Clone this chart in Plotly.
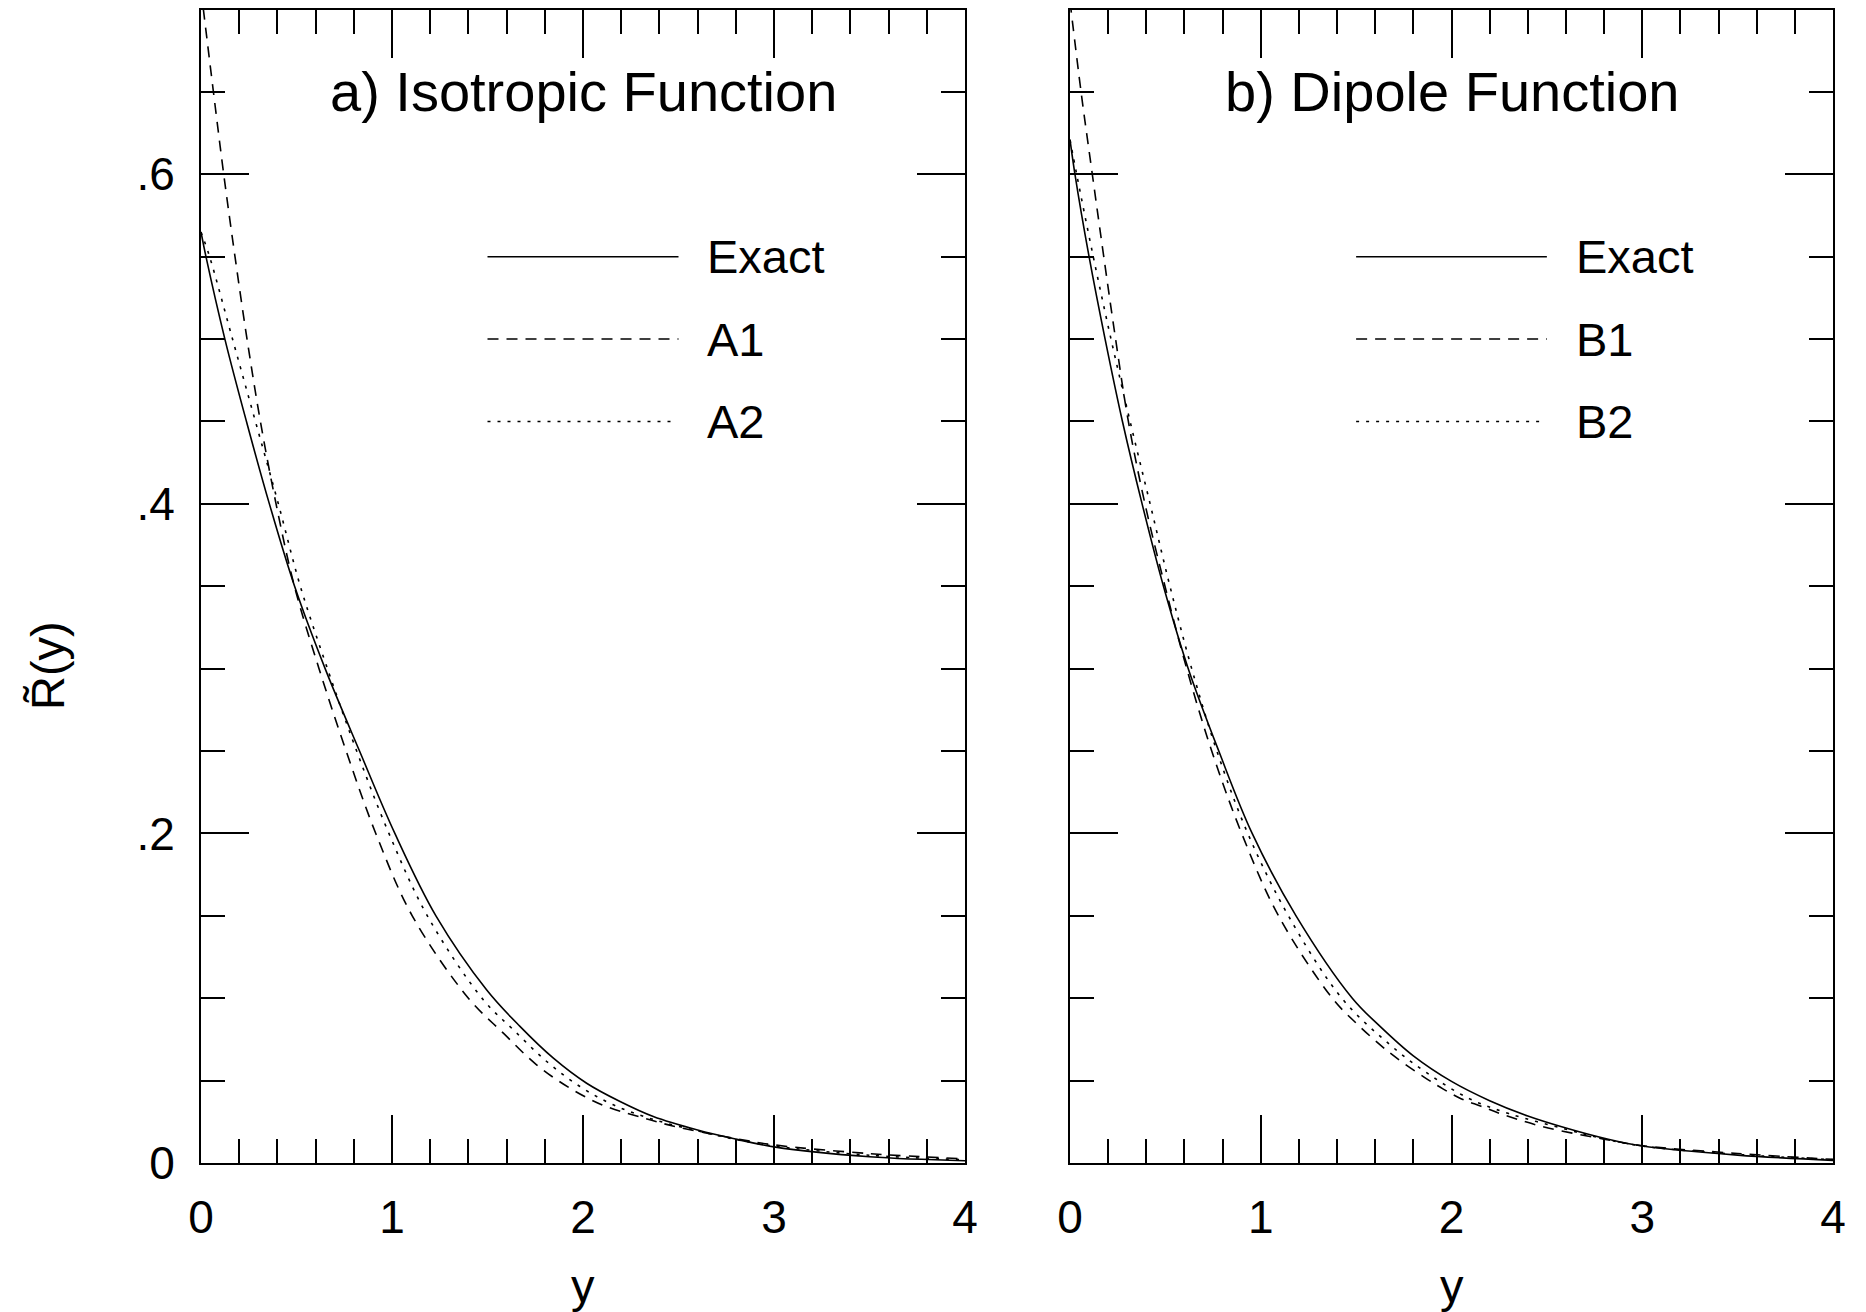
import plotly.graph_objects as go

# ---------------- data ----------------
iso_exact_x = [0, 0.026, 0.125, 0.238, 0.358, 0.49, 0.65, 0.83, 1.015, 1.23, 1.496, 1.67, 1.845, 2.019, 2.194, 2.368, 2.6, 2.8, 3.0, 3.5, 4.0]
iso_exact_y = [0.565, 0.55, 0.50, 0.45, 0.40, 0.35, 0.30, 0.25, 0.20, 0.15, 0.105, 0.0829, 0.0636, 0.0484, 0.0373, 0.0282, 0.0200, 0.0145, 0.0098, 0.0038, 0.0014]

iso_a1_x = [0, 0.065, 0.119, 0.178, 0.241, 0.311, 0.393, 0.489, 0.618, 0.76, 0.915, 1.106, 1.40, 1.583, 1.757, 1.932, 2.106, 2.281, 2.47, 2.8, 3.0, 3.5, 4.0]
iso_a1_y = [0.712, 0.65, 0.60, 0.55, 0.50, 0.45, 0.40, 0.35, 0.30, 0.25, 0.20, 0.15, 0.10, 0.0788, 0.0596, 0.0454, 0.0350, 0.0285, 0.0225, 0.0148, 0.0110, 0.0057, 0.0025]

iso_a2_x = [0, 0.045, 0.165, 0.285, 0.405, 0.52, 0.662, 0.815, 0.984, 1.185, 1.478, 1.635, 1.81, 1.984, 2.159, 2.36, 2.6, 2.8, 3.0, 3.5, 4.0]
iso_a2_y = [0.565, 0.55, 0.50, 0.45, 0.40, 0.35, 0.30, 0.25, 0.20, 0.15, 0.099, 0.0809, 0.0616, 0.0464, 0.0353, 0.0267, 0.0195, 0.0143, 0.0103, 0.0047, 0.0019]

dip_exact_x = [0, 0.026, 0.1, 0.184, 0.275, 0.378, 0.49, 0.62, 0.78, 0.955, 1.185, 1.48, 1.62, 1.8, 2.0, 2.2, 2.4, 2.6, 2.8, 3.0, 3.5, 4.0]
dip_exact_y = [0.621, 0.60, 0.55, 0.50, 0.45, 0.40, 0.35, 0.30, 0.25, 0.20, 0.15, 0.10, 0.0835, 0.065, 0.0495, 0.0378, 0.0285, 0.0212, 0.0150, 0.0103, 0.0048, 0.0016]

dip_b1_x = [0, 0.058, 0.117, 0.177, 0.239, 0.306, 0.393, 0.498, 0.612, 0.743, 0.9, 1.093, 1.375, 1.49, 1.675, 1.858, 1.955, 2.05, 2.155, 2.26, 2.48, 2.8, 3.0, 3.5, 4.0]
dip_b1_y = [0.705, 0.65, 0.60, 0.55, 0.50, 0.45, 0.40, 0.35, 0.30, 0.25, 0.20, 0.15, 0.10, 0.086, 0.067, 0.052, 0.045, 0.039, 0.0344, 0.0298, 0.022, 0.0145, 0.0105, 0.0058, 0.0022]

dip_b2_x = [0, 0.035, 0.122, 0.215, 0.315, 0.42, 0.524, 0.638, 0.77, 0.932, 1.145, 1.425, 1.675, 1.867, 2.094, 2.3, 2.6, 2.8, 3.0, 3.5, 4.0]
dip_b2_y = [0.621, 0.60, 0.55, 0.50, 0.45, 0.40, 0.35, 0.30, 0.25, 0.20, 0.15, 0.10, 0.072, 0.055, 0.039, 0.030, 0.0205, 0.0146, 0.0103, 0.0052, 0.0020]

panel_titles = ["a) Isotropic Function", "b) Dipole Function"]
legend_names = [["Exact", "A1", "A2"], ["Exact", "B1", "B2"]]
x_tickvals = [0, 1, 2, 3, 4]
x_ticktext = ["0", "1", "2", "3", "4"]
y_tickvals = [0, 0.2, 0.4, 0.6]
y_ticktext = ["0", ".2", ".4", ".6"]

# ---------------- styling ----------------
FONT = "Liberation Sans, Arial, Helvetica, sans-serif"
W, H = 1866, 1312
dashes = ["solid", "11px,8px", "3px,7px"]
LW = 1.6

fig = go.Figure()

series = [
    [(iso_exact_x, iso_exact_y), (iso_a1_x, iso_a1_y), (iso_a2_x, iso_a2_y)],
    [(dip_exact_x, dip_exact_y), (dip_b1_x, dip_b1_y), (dip_b2_x, dip_b2_y)],
]

for p, panel in enumerate(series):
    xa = "x" if p == 0 else "x2"
    ya = "y" if p == 0 else "y2"
    for k, (xs, ys) in enumerate(panel):
        fig.add_trace(go.Scatter(
            x=xs, y=ys, mode="lines", xaxis=xa, yaxis=ya,
            line=dict(color="black", width=LW, dash=dashes[k], shape="spline", smoothing=1.0),
            name=legend_names[p][k], showlegend=False, hoverinfo="skip"))

# domains in paper fractions (pixel frame of reference)
xdom = [[201 / W, 965 / W], [1070 / W, 1833 / W]]
ydom = [1 - 1163 / H, 1 - 9.5 / H]

axis_common = dict(
    showline=True, linecolor="black", linewidth=2, mirror="allticks",
    ticks="inside", ticklen=48, tickwidth=1.6, tickcolor="black",
    showgrid=False, zeroline=False, automargin=False,
    tickfont=dict(family=FONT, size=46, color="black"),
)

layout_axes = {}
for p in range(2):
    xname = "xaxis" if p == 0 else "xaxis2"
    yname = "yaxis" if p == 0 else "yaxis2"
    layout_axes[xname] = dict(
        axis_common, domain=xdom[p], range=[0, 4], anchor="y" if p == 0 else "y2",
        tickmode="array", tickvals=x_tickvals, ticktext=x_ticktext,
        ticklabelstandoff=13,
        minor=dict(ticks="inside", ticklen=24, tickwidth=1.6, tickcolor="black", dtick=0.2, tick0=0, showgrid=False),
    )
    layout_axes[yname] = dict(
        axis_common, domain=ydom, range=[0, 0.7], anchor="x" if p == 0 else "x2",
        tickmode="array", tickvals=y_tickvals, ticktext=y_ticktext,
        showticklabels=(p == 0), ticklabelstandoff=15,
        minor=dict(ticks="inside", ticklen=24, tickwidth=1.6, tickcolor="black", dtick=0.05, tick0=0, showgrid=False),
    )

annotations = []
shapes = []
leg_y = [0.55, 0.50, 0.45]
for p in range(2):
    xr = "x" if p == 0 else "x2"
    yr = "y" if p == 0 else "y2"
    annotations.append(dict(x=2.0, y=0.65, xref=xr, yref=yr, text=panel_titles[p], showarrow=False,
                            xanchor="center", yanchor="middle",
                            font=dict(family=FONT, size=56, color="black")))
    for k in range(3):
        shapes.append(dict(type="line", xref=xr, yref=yr, x0=1.5, x1=2.5 if k < 2 else 2.47,
                           y0=leg_y[k], y1=leg_y[k],
                           line=dict(color="black", width=LW, dash=dashes[k])))
        annotations.append(dict(x=2.64, y=leg_y[k], xref=xr, yref=yr, text=legend_names[p][k],
                                showarrow=False, xanchor="left", yanchor="middle",
                                font=dict(family=FONT, size=47, color="black")))
    annotations.append(dict(x=2.0, y=1 - 1285 / H, xref=xr, yref="paper", text="y", showarrow=False,
                            xanchor="center", yanchor="middle",
                            font=dict(family=FONT, size=47, color="black")))

annotations.append(dict(x=48 / W, y=1 - 666 / H, xref="paper", yref="paper", text="R\u0303(y)",
                        showarrow=False, textangle=-90, xanchor="center", yanchor="middle",
                        font=dict(family=FONT, size=47, color="black")))

fig.update_layout(
    width=W, height=H,
    margin=dict(l=0, r=0, t=0, b=0, autoexpand=False),
    paper_bgcolor="white", plot_bgcolor="white",
    showlegend=False,
    annotations=annotations, shapes=shapes,
    **layout_axes,
)

fig.write_html("out.html")
